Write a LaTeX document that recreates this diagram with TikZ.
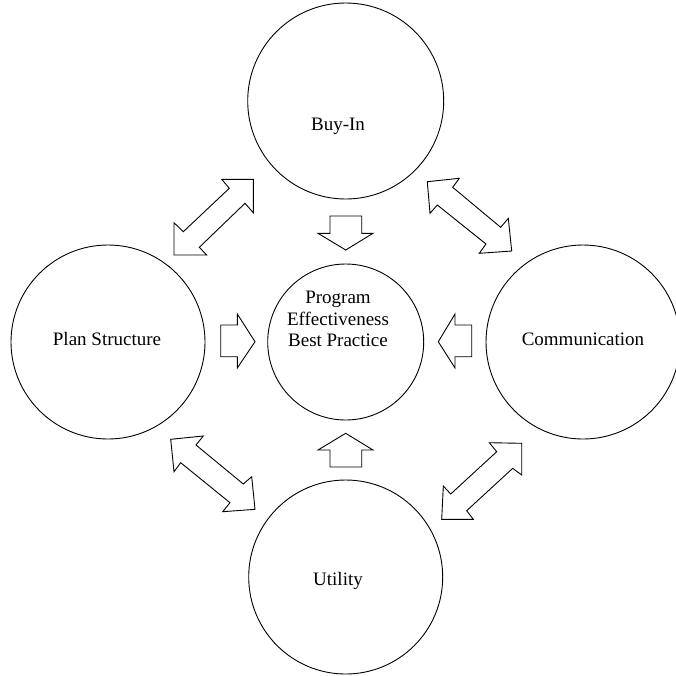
\documentclass[tikz,border=0pt]{standalone}
\usepackage{fontspec}
\setmainfont{Liberation Serif}
\begin{document}
\begin{tikzpicture}[x=1pt,y=-1pt,
  ring/.style={draw=black, line width=0.9pt, circle, inner sep=0pt},
  caption/.style={font=\fontsize{19}{21.5}\selectfont, align=center, inner sep=0pt},
  blockarrow/.style={draw=black, line width=0.9pt, line join=miter, fill=white}]
\useasboundingbox (0,0) rectangle (676,675);

% circles
\node[ring, minimum size=78*2pt] (core) at (345.7,342) {};
\node[ring, minimum size=196pt] (buyin) at (345.7,101) {};
\node[ring, minimum size=194pt] (utility) at (345.7,577) {};
\node[ring, minimum size=194pt] (plan) at (108,342) {};
\node[ring, minimum size=194pt] (comm) at (583,342) {};

% texts
\node[caption] (coretext) at (338,319) {Program\\Effectiveness\\Best Practice};
\node[caption] (buyintext) at (338,126) {Buy-In};
\node[caption] (utilitytext) at (338,581) {Utility};
\node[caption] (plantext) at (107,339) {Plan Structure};
\node[caption] (commtext) at (583,339) {Communication};

% single block arrows toward the core
\draw[blockarrow] (330,216) -- (361.7,216) -- (361.7,233.3) -- (373,233.3)
  -- (345.7,250) -- (318,233.3) -- (330,233.3) -- cycle;
\draw[blockarrow] (330,467) -- (361.7,467) -- (361.7,450) -- (373,450)
  -- (345.7,433.3) -- (318,450) -- (330,450) -- cycle;
\draw[blockarrow] (220.7,325) -- (220.7,356.7) -- (237.3,356.7) -- (237.3,368)
  -- (255,341.7) -- (237.3,314) -- (237.3,325) -- cycle;
\draw[blockarrow] (471.7,325) -- (471.7,356.7) -- (455,356.7) -- (455,368)
  -- (438.3,341.7) -- (455,314) -- (455,325) -- cycle;

% double block arrows between neighbouring circles
\draw[blockarrow] (253.3,179.3) -- (221.7,179.3) -- (229.3,188.3) -- (183.3,231.7)
  -- (174,222.7) -- (174,255) -- (206.7,255) -- (199.3,247.3) -- (245,203.3)
  -- (253.3,212.7) -- cycle;
\draw[blockarrow] (427.3,181.7) -- (459.3,178.3) -- (452.7,187.3) -- (500.7,227.3)
  -- (508.3,218.3) -- (511.7,251) -- (479.3,253.3) -- (486,244) -- (437.3,205)
  -- (430,213.3) -- cycle;
\draw[blockarrow] (170.7,439.3) -- (203.3,436) -- (196,445) -- (243.3,484)
  -- (251.7,476.7) -- (255,509.3) -- (222.7,511.7) -- (230,502.7) -- (180.7,462.7)
  -- (174,471.7) -- cycle;
\draw[blockarrow] (521.7,443.3) -- (489.3,442.7) -- (496.7,451.7) -- (450.7,494)
  -- (443.3,486) -- (441.7,519.3) -- (473.3,519.3) -- (466.7,510.7) -- (512.7,468.3)
  -- (521.7,475) -- cycle;
\end{tikzpicture}
\end{document}
